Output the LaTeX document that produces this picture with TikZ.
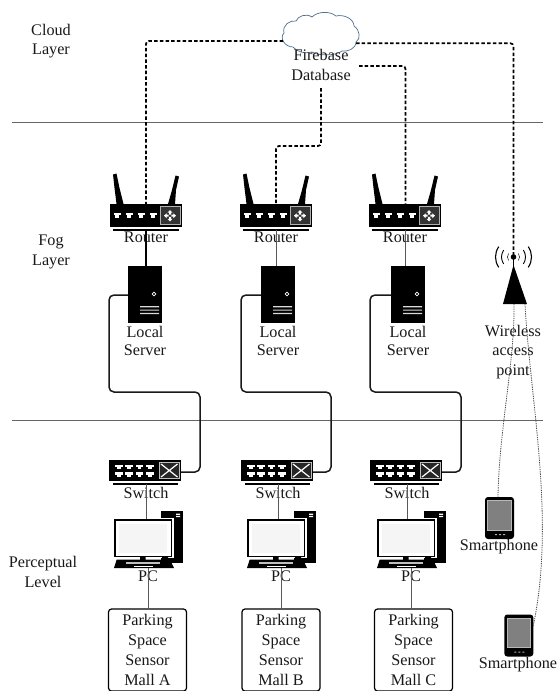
\documentclass[tikz,border=0pt]{standalone}
\usepackage{fontspec}
\setmainfont{Liberation Serif}
\definecolor{cloudline}{HTML}{4F6F8F}
\definecolor{screen}{HTML}{808080}
\tikzset{
  x=1pt,y=-1pt,
  lbl/.style={font=\fontsize{16.2}{19.5}\selectfont,inner sep=0pt,align=center,text=black!90},
  lbltight/.style={font=\fontsize{16.2}{18.5}\selectfont,inner sep=0pt,align=center,text=black!90},
  sep/.style={draw=black!60,line width=0.8pt},
  dashconn/.style={draw=black,line width=1.7pt,dash pattern=on 3.5pt off 2.2pt,rounded corners=3pt},
  thinconn/.style={draw=black!65,line width=0.8pt},
  cable/.style={draw=black!90,line width=1.5pt,rounded corners=5pt},
  dotconn/.style={draw=black!70,line width=0.8pt,dash pattern=on 1.3pt off 1pt},
  sensorbox/.style={draw=black,line width=1.2pt,rounded corners=3pt,minimum width=78pt,minimum height=82pt,inner sep=0pt,align=center,font=\fontsize{16.2}{19.8}\selectfont,text=black!90},
}
\newcommand{\routericon}[1]{%
  \begin{scope}[shift={(#1,0)}]
    \fill[black] (110,204) rectangle (182,227);
    \fill[black] (113,174.5) -- (116.5,173.5) -- (119.5,188) -- (123.5,204) -- (116.5,204) -- (114.5,188) -- cycle;
    \fill[black] (175.5,175.5) -- (179,176.5) -- (176,190) -- (175,204) -- (168,204) -- (172,190) -- cycle;
    \foreach \i in {0,1,2,3}{\fill[white] (113.5+\i*12,212.5) rectangle +(7.5,2.8);\fill[white] (115.3+\i*12,215.3) rectangle +(4,2.4);}
    \draw[white!70!black,line width=0.8pt,fill=black!80] (160.7,206.5) rectangle (180,224.8);
    \fill[white] (170,210) -- (172.4,212.6) -- (171,212.6) -- (171,214.6) -- (169,214.6) -- (169,212.6) -- (167.6,212.6) -- cycle;
    \fill[white] (170,221.5) -- (172.4,218.9) -- (171,218.9) -- (171,216.9) -- (169,216.9) -- (169,218.9) -- (167.6,218.9) -- cycle;
    \fill[white] (164,215.7) -- (166.6,213.3) -- (166.6,214.7) -- (168.6,214.7) -- (168.6,216.7) -- (166.6,216.7) -- (166.6,218.1) -- cycle;
    \fill[white] (176,215.7) -- (173.4,213.3) -- (173.4,214.7) -- (171.4,214.7) -- (171.4,216.7) -- (173.4,216.7) -- (173.4,218.1) -- cycle;
    \draw[black,line width=1.1pt] (113,230) -- (179,230);
  \end{scope}}
\newcommand{\servericon}[1]{%
  \begin{scope}[shift={(#1,0)}]
    \fill[black] (128,266) rectangle (162,323);
    \draw[white,line width=0.8pt] (154,294) circle (1.9);
    \fill[white!85!black] (140,306.2) rectangle (159,307.4) (140,309.5) rectangle (159,310.7) (140,312.8) rectangle (159,314);
  \end{scope}}
\newcommand{\switchicon}[1]{%
  \begin{scope}[shift={(#1,0)}]
    \fill[black] (109,460) rectangle (181,481);
    \foreach \i in {0,1,2,3}{
      \fill[white] (115+\i*10.4,464.5) rectangle +(7.5,2.6);\fill[white] (117+\i*10.4,467.1) rectangle +(3.5,2);
      \fill[white] (115+\i*10.4,472) rectangle +(7.5,2.6);\fill[white] (117+\i*10.4,474.6) rectangle +(3.5,2);}
    \draw[white!75!black,line width=0.8pt,fill=black!85] (159.5,462.8) rectangle (179,478.3);
    \draw[white,line width=1.2pt] (161,464) -- (177.5,477) (177.5,464) -- (161,477);
    \draw[black,line width=1.1pt] (113,484) -- (178,484);
  \end{scope}}
\newcommand{\pcicon}[1]{%
  \begin{scope}[shift={(#1,0)}]
    \fill[black] (160.7,511) rectangle (182.7,563);
    \fill[white] (176,513.5) rectangle (180,515) (176,516) rectangle (180,517);
    \fill[white] (112.8,518) rectangle (173.5,558);
    \draw[black,line width=1.8pt] (115,520) rectangle (171.5,556.5);
    \fill[white!96!black] (119,524) rectangle (167,553);
    \fill[black] (140,557) rectangle (145.5,560) (162,557) rectangle (168,560);
    \fill[black] (116.7,559.5) -- (170,559.5) -- (174,568) -- (114,568) -- cycle;
    \fill[white!75!black] (126,561.5) rectangle (160,563.5);
    \fill[white] (134,566) rectangle (153,567);
  \end{scope}}
\newcommand{\phoneicon}[2]{%
  \begin{scope}[shift={(#1,#2)}]
    \fill[black,rounded corners=3pt] (0,0) rectangle (29,42);
    \fill[screen,draw=white!72!black,line width=0.7pt] (2.6,3.8) rectangle (26.4,33);
    \fill[white!70!black] (10,37) rectangle (12,38) (14,37) rectangle (16,38) (18,37) rectangle (20,38);
  \end{scope}}
\begin{document}
\begin{tikzpicture}
\useasboundingbox (0,0) rectangle (557,691);
\fill[white] (0,0) rectangle (557,691);
% separators
\draw[sep] (12,122) -- (543,122);
\draw[sep] (12,420) -- (543,420);
% icons
\routericon{0}\routericon{130}\routericon{259}
\servericon{0}\servericon{133}\servericon{263}
\switchicon{0}\switchicon{132}\switchicon{261}
\pcicon{0}\pcicon{133}\pcicon{263}
\phoneicon{485}{497}\phoneicon{504.3}{614.5}
% anchors
\coordinate (r1) at (146,204); \coordinate (r2) at (276,204); \coordinate (r3) at (405.5,204);
\coordinate (r1b) at (146,230); \coordinate (r2b) at (276,230); \coordinate (r3b) at (405.5,230);
\coordinate (s1t) at (146,266); \coordinate (s2t) at (276,266); \coordinate (s3t) at (405.5,266);
\coordinate (s1l) at (128,295); \coordinate (s2l) at (261,295); \coordinate (s3l) at (391,295);
\coordinate (w1) at (181,472); \coordinate (w2) at (313,472); \coordinate (w3) at (442,472);
\coordinate (w1b) at (146,484); \coordinate (w2b) at (278,484); \coordinate (w3b) at (407,484);
\coordinate (p1t) at (146,519); \coordinate (p2t) at (278,519); \coordinate (p3t) at (407,519);
\coordinate (p1b) at (148,568); \coordinate (p2b) at (281,568); \coordinate (p3b) at (411,568);
\coordinate (cl) at (283,41); \coordinate (cr) at (356,43.3);
\coordinate (db) at (321,88); \coordinate (dbr) at (359,66);
\coordinate (ap) at (513.5,257);
\coordinate (a1) at (514,304); \coordinate (a2) at (525,304);
\coordinate (ph1) at (498,497); \coordinate (ph2) at (533,627);
% cloud
\draw[cloudline,line width=0.7pt,fill=white] (293,47)
  .. controls (285,47) and (279,38) .. (284,33)
  .. controls (282,25) and (290,20) .. (296,21)
  .. controls (298,16) and (306,13) .. (312,17)
  .. controls (318,11) and (330,11) .. (336,16)
  .. controls (344,14) and (354,19) .. (354,26)
  .. controls (360,30) and (361,39) .. (356,42)
  .. controls (356,49) and (347,52) .. (342,51)
  .. controls (336,56) and (318,56) .. (312,52)
  .. controls (305,54) and (297,52) .. (293,47) -- cycle;
% labels
\node[lbl] (cloudlab) at (51,41) {Cloud\\Layer};
\node[lbl] (foglab) at (51,252) {Fog\\Layer};
\node[lbl] (perclab) at (43,572) {Perceptual\\Level};
\node[lbl] (fb) at (321,65) {Firebase\\Database};
\foreach \n/\x in {a/146,b/276,c/405}{\node[lbl] (rl\n) at (\x,237.5) {Router};}
\foreach \n/\x in {a/145,b/278,c/408}{\node[lbltight] (sl\n) at (\x,341) {Local\\Server};}
\foreach \n/\x in {a/146,b/278,c/407}{\node[lbl] (wl\n) at (\x,493) {Switch};}
\foreach \n/\x in {a/148,b/281,c/411}{\node[lbl] (pl\n) at (\x,576) {PC};}
\node[lbl] (wap) at (513,352) {Wireless\\access\\point};
\node[lbl] (sp1) at (499,547) {Smartphone};
\node[lbl] (sp2) at (518,665) {Smartphone};
% boxes
\node[sensorbox] (b1) at (147.5,650) {Parking\\Space\\Sensor\\Mall A};
\node[sensorbox] (b2) at (281,650) {Parking\\Space\\Sensor\\Mall B};
\node[sensorbox] (b3) at (413.5,650) {Parking\\Space\\Sensor\\Mall C};
% connectors
\draw[dashconn] (cl) -- (146,41) -- (r1);
\draw[dashconn] (cr) -- (513.5,43.3) -- (ap);
\draw[dashconn] (dbr) -- (405.5,66) -- (r3);
\draw[dashconn] (db) -- (321,146) -- (276,146) -- (r2);
\draw[thinconn,line width=1.1pt,draw=black] (r1b) -- (s1t);
\draw[thinconn] (r2b) -- (s2t);
\draw[thinconn] (r3b) -- (s3t);
\draw[cable] (s1l) -- (109,295) -- (109,392) -- (200,392) -- (200,472) -- (w1);
\draw[cable] (s2l) -- (241,295) -- (241,392) -- (331,392) -- (331,472) -- (w2);
\draw[cable] (s3l) -- (370,295) -- (370,392) -- (461,392) -- (461,472) -- (w3);
\foreach \i in {1,2,3}{\draw[thinconn] (w\i b) -- (p\i t);}
\draw[thinconn] (p1b) -- (b1.north -| p1b);
\draw[thinconn] (p2b) -- (b2.north -| p2b);
\draw[thinconn] (p3b) -- (b3.north -| p3b);
% access point
\fill[black] (513.5,265) -- (527,304) -- (503,304) -- cycle;
\fill[black] (513.5,257) circle (2.8);
\draw[black,line width=1pt] (513.5,259) -- (513.5,266);
\foreach \r/\w in {6/0.5,12/0.9,18/1.1}{
  \draw[black,line width=\w pt] (513.5,257)+(145:\r) arc (145:215:\r);
  \draw[black,line width=\w pt] (513.5,257)+(35:\r) arc (35:-35:\r);
}
\draw[dotconn] (a1) .. controls (515,360) and (499,430) .. (ph1);
\draw[dotconn] (a2) .. controls (530,400) and (556,520) .. (ph2);
\end{tikzpicture}
\end{document}
